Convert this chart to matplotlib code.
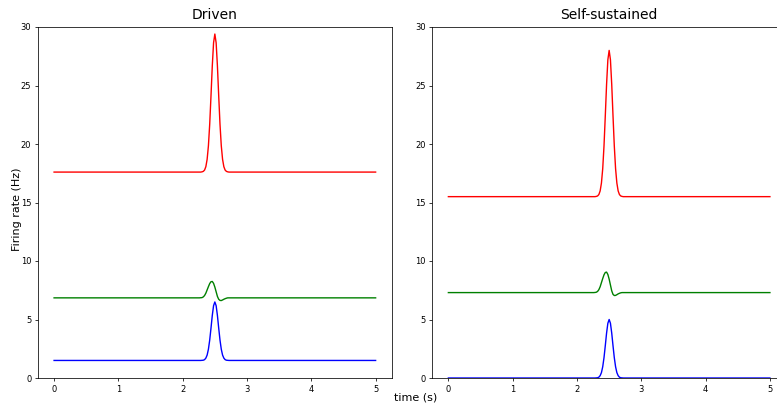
import matplotlib
matplotlib.use("Agg")
import matplotlib.pyplot as plt

# Time samples (s)
time = [0.0, 2.26, 2.28, 2.30, 2.32, 2.34, 2.36, 2.38, 2.40, 2.42, 2.44, 2.46,
        2.48, 2.50, 2.52, 2.54, 2.56, 2.58, 2.60, 2.62, 2.64, 2.66, 2.68, 2.70,
        2.72, 2.74, 5.0]

# Driven panel (Hz)
red_driven = [17.6, 17.6, 17.6, 17.62, 17.66, 17.77, 18.06, 18.69, 19.85, 21.69,
              24.11, 26.66, 28.65, 29.4, 28.65, 26.66, 24.11, 21.69, 19.85, 18.69,
              18.06, 17.77, 17.66, 17.62, 17.6, 17.6, 17.6]
green_driven = [6.85, 6.85, 6.86, 6.87, 6.93, 7.05, 7.25, 7.53, 7.81, 8.07, 8.23,
                8.25, 8.09, 7.77, 7.37, 6.97, 6.73, 6.63, 6.62, 6.67, 6.73, 6.78,
                6.82, 6.85, 6.85, 6.85, 6.85]
blue_driven = [1.5, 1.5, 1.5, 1.51, 1.52, 1.57, 1.70, 1.96, 2.46, 3.24, 4.26, 5.34,
               6.18, 6.5, 6.18, 5.34, 4.26, 3.24, 2.46, 1.96, 1.70, 1.57, 1.52,
               1.51, 1.5, 1.5, 1.5]

# Self-sustained panel (Hz)
red_self = [15.5, 15.5, 15.5, 15.52, 15.56, 15.68, 15.99, 16.66, 17.89, 19.84,
            22.4, 25.1, 27.2, 28.0, 27.2, 25.1, 22.4, 19.84, 17.89, 16.66, 15.99,
            15.68, 15.56, 15.52, 15.5, 15.5, 15.5]
green_self = [7.3, 7.3, 7.31, 7.33, 7.4, 7.55, 7.8, 8.15, 8.5, 8.82, 9.02, 9.05,
              8.85, 8.45, 7.95, 7.45, 7.15, 7.05, 7.06, 7.12, 7.19, 7.24, 7.28,
              7.3, 7.3, 7.3, 7.3]
blue_self = [0, 0, 0, 0.01, 0.02, 0.07, 0.2, 0.46, 0.96, 1.74, 2.76, 3.84, 4.68,
             5.0, 4.68, 3.84, 2.76, 1.74, 0.96, 0.46, 0.2, 0.07, 0.02, 0.01, 0, 0, 0]

titles = ["Driven", "Self-sustained"]
yticks = [0, 5, 10, 15, 20, 25, 30]
xticks = [0, 1, 2, 3, 4, 5]

W, H = 777, 408
fig = plt.figure(figsize=(W / 100, H / 100), dpi=100)

ax_w = 353.7 / W
ax_b = (H - 378) / H
ax_h = (378 - 27) / H
ax1 = fig.add_axes([38 / W, ax_b, ax_w, ax_h])
ax2 = fig.add_axes([432.3 / W, ax_b, ax_w, ax_h])

panels = [
    (ax1, red_driven, green_driven, blue_driven),
    (ax2, red_self, green_self, blue_self),
]
for (ax, r, g, b), title in zip(panels, titles):
    ax.plot(time, r, color="r", lw=1.0)
    ax.plot(time, g, color="g", lw=1.0)
    ax.plot(time, b, color="b", lw=1.0)
    ax.set_ylim(0, 30)
    ax.set_yticks(yticks)
    ax.set_xticks(xticks)
    ax.tick_params(labelsize=6, length=2.4, width=0.55, pad=2.4)
    for sp in ax.spines.values():
        sp.set_linewidth(0.55)
    ax.set_title(title, fontsize=10, pad=6)

fig.text(415.5 / W, 1 - 397.5 / H, "time (s)", fontsize=8, ha="center", va="center")
fig.text(17 / W, 1 - 209 / H, "Firing rate (Hz)", fontsize=8, ha="center",
         va="center", rotation=90)

fig.savefig("out.png", dpi=100)
